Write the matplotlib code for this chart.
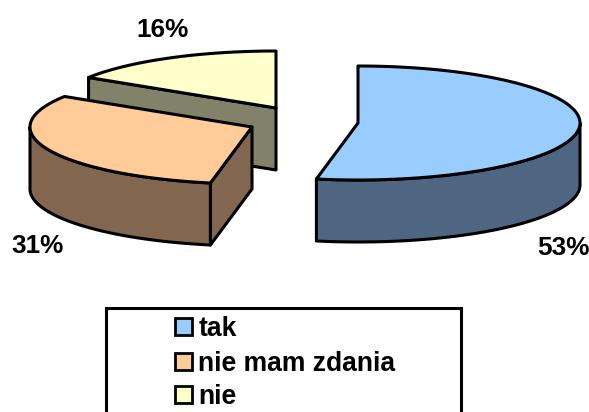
import numpy as np
from matplotlib import pyplot as plt
from matplotlib.patches import Polygon, Rectangle

labels = ['tak', 'nie mam zdania', 'nie']
values = [53, 31, 16]
pct_labels = ['53%', '31%', '16%']
top_colors = ['#99CCFF', '#FFCC99', '#FFFFCC']
side_colors = ['#4F6682', '#82664F', '#82826A']

# apex of every exploded slice, in image pixels
apex = [(358, 123), (252, 127), (276, 108)]
label_pos = [(563, 255), (38, 253), (163, 37)]
rx, ry, depth = 222, 57, 62

plt.rcParams['font.family'] = ['Liberation Sans', 'DejaVu Sans']

fig = plt.figure(figsize=(5.89, 4.12), dpi=100)
ax = fig.add_axes([0, 0, 1, 1])
ax.set_xlim(0, 589)
ax.set_ylim(412, 0)
ax.axis('off')


def rim(cx, cy, a0, a1):
    t = np.linspace(a0, a1, 80)
    return np.column_stack([cx + rx * np.sin(t), cy - ry * np.cos(t)])


def poly(pts, color):
    ax.add_patch(Polygon(pts, closed=True, facecolor=color, edgecolor='black',
                         linewidth=2.2, joinstyle='round'))


cum = np.cumsum([0] + values) / sum(values) * 2 * np.pi
shift = np.array([0, depth])

# back slices first so the nearer ones cover them
for i in [2, 1, 0]:
    cx, cy = apex[i]
    a0, a1 = cum[i], cum[i + 1]
    centre = np.array([cx, cy])
    edge = rim(cx, cy, a0, a1)

    # cut face towards the viewer
    if i == 2 or i == 1:
        poly([edge[0], centre, centre + shift, edge[0] + shift], side_colors[i])

    # outer wall, only the part facing front
    if i == 0:
        front = rim(cx, cy, np.pi / 2, a1)
        poly(np.vstack([front, (front + shift)[::-1]]), side_colors[i])
    if i == 1:
        front = rim(cx, cy, a0, 3 * np.pi / 2)
        poly(np.vstack([front, (front + shift)[::-1]]), side_colors[i])

    poly(np.vstack([centre, edge]), top_colors[i])
    ax.text(*label_pos[i], pct_labels[i], fontsize=18.8, fontweight='bold',
            ha='center', va='baseline', color='black')

# legend
ax.add_patch(Rectangle((106, 308), 355, 110, facecolor='white', edgecolor='black',
                       linewidth=2.2))
legend_y = [336, 371, 404]
for name, col, y in zip(labels, top_colors, legend_y):
    ax.add_patch(Rectangle((174.5, y - 18.5), 17, 17, facecolor=col, edgecolor='black', linewidth=2.0))
    ax.text(198.5, y, name, fontsize=19.1, fontweight='bold', ha='left', va='baseline', color='black')

fig.savefig('out.png', dpi=100)
